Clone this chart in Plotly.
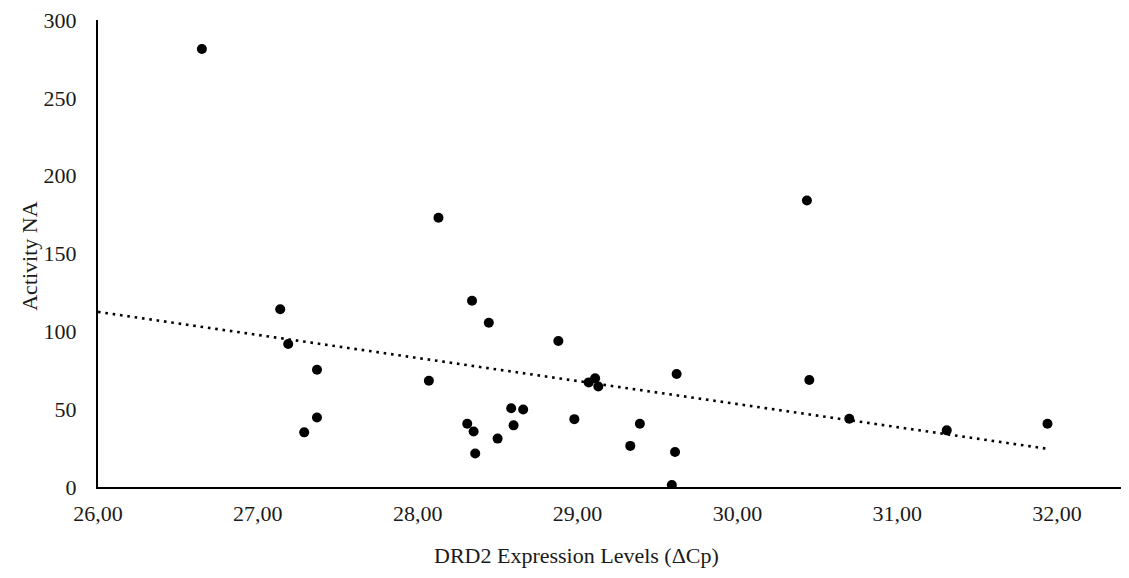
import numpy as np
import plotly.graph_objects as go

# Data
drd2_expr = [26.65, 27.14, 27.19, 27.37, 27.37, 27.29, 28.07, 28.13, 28.34, 28.445,
             28.88, 28.31, 28.35, 28.36, 28.50, 28.585, 28.60, 28.66, 28.98, 29.07,
             29.11, 29.13, 29.33, 29.39, 29.62, 29.61, 29.59, 30.435, 30.45, 30.70,
             31.31, 31.94]
activity_na = [281.4, 114.2, 91.9, 75.3, 44.7, 35.1, 68.3, 173.0, 119.7, 105.5,
               93.8, 40.6, 35.7, 21.5, 31.1, 50.6, 39.6, 49.8, 43.6, 67.2,
               69.8, 64.6, 26.4, 40.6, 72.6, 22.5, 1.3, 184.0, 68.7, 43.8,
               36.4, 40.6]
x_ticks = [26, 27, 28, 29, 30, 31, 32]
y_ticks = [0, 50, 100, 150, 200, 250, 300]

# Linear trendline (extended back to the axis start)
slope, intercept = np.polyfit(drd2_expr, activity_na, 1)
trend_x = [x_ticks[0], max(drd2_expr)]
trend_y = [slope * v + intercept for v in trend_x]

font_family = "Liberation Serif, Times New Roman, serif"
txt_color = "#1a1a1a"

fig = go.Figure()
fig.add_trace(go.Scatter(
    x=trend_x, y=trend_y, mode="lines",
    line=dict(color="black", width=2.6, dash="2.6px,4.8px"),
    hoverinfo="skip", showlegend=False,
))
fig.add_trace(go.Scatter(
    x=drd2_expr, y=activity_na, mode="markers",
    marker=dict(color="black", size=10),
    showlegend=False,
))

fig.update_layout(
    width=1113, height=562,
    margin=dict(l=90, r=0, t=9, b=83),
    paper_bgcolor="white", plot_bgcolor="white",
    separators=",.",
    font=dict(family=font_family, size=22, color=txt_color),
    showlegend=False,
    annotations=[
        dict(text="DRD2 Expression Levels (ΔCp)", xref="paper", yref="paper",
             x=(576 - 98) / 1023, y=-0.147, xanchor="center", yanchor="middle",
             showarrow=False, font=dict(size=22, family=font_family, color=txt_color)),
        dict(text="Activity NA", xref="paper", yref="paper",
             x=(30 - 98) / 1023, y=0.493, xanchor="center", yanchor="middle", textangle=-90,
             showarrow=False, font=dict(size=22, family=font_family, color=txt_color)),
    ],
)
fig.update_xaxes(
    range=[26, 32.40], tickvals=x_ticks, tickformat=".2f",
    showgrid=False, zeroline=False,
    showline=True, linecolor="black", linewidth=2,
    ticks="outside", ticklen=6, tickcolor="rgba(0,0,0,0)",
    ticklabeloverflow="allow",
    tickfont=dict(size=22, family=font_family, color=txt_color),
)
fig.update_yaxes(
    range=[0, 300], tickvals=y_ticks,
    showgrid=False, zeroline=False,
    showline=True, linecolor="black", linewidth=2,
    ticks="outside", ticklen=15, tickcolor="rgba(0,0,0,0)",
    ticklabeloverflow="allow",
    tickfont=dict(size=22, family=font_family, color=txt_color),
)

fig.write_html("out.html")
